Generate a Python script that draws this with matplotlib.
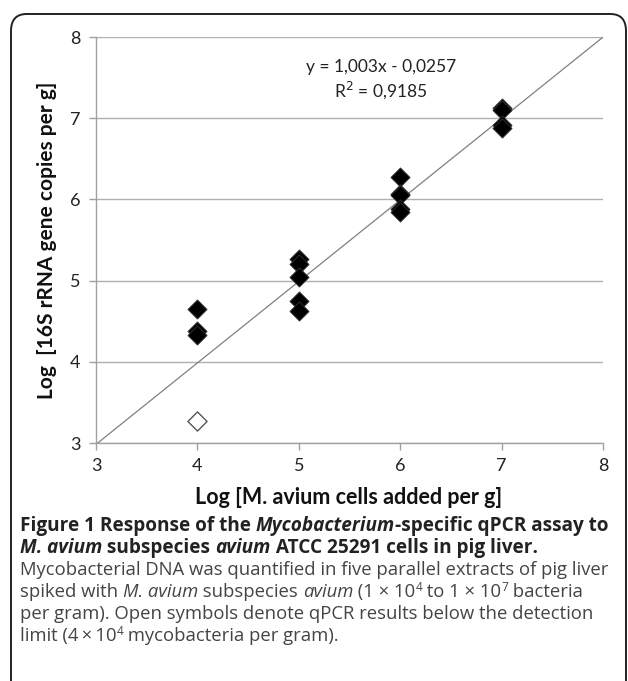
import numpy as np
import matplotlib.pyplot as plt
from matplotlib.patches import FancyBboxPatch

plt.rcParams['font.family'] = 'Lato'

# cells added (log) and measured copies (log)
x_filled = [4, 4, 4, 5, 5, 5, 5, 5, 6, 6, 6, 6, 6, 7, 7, 7, 7]
y_filled = [4.65, 4.38, 4.33, 5.27, 5.20, 5.04, 4.75, 4.62,
            6.27, 6.07, 6.05, 5.88, 5.85, 7.13, 7.10, 6.92, 6.88]
x_open = [4]
y_open = [3.27]
slope = 1.003
intercept = -0.0257
ticks = [3, 4, 5, 6, 7, 8]

W, H = 628, 681
fig = plt.figure(figsize=(W / 100, H / 100), dpi=100)

# outer frame, open at the bottom
frame = FancyBboxPatch((11 / W, -0.2), (626 - 11) / W, 1.2 - 14 / H,
                       boxstyle="round,pad=0,rounding_size=0.025",
                       transform=fig.transFigure, fill=False,
                       edgecolor='#222222', linewidth=1.4, clip_on=False)
fig.patches.append(frame)

ax = fig.add_axes([96 / W, 1 - 443 / H, (603 - 96) / W, (443 - 37) / H])
xx = np.array([3, 8])
ax.plot(xx, slope * xx + intercept, color='#808080', linewidth=0.9, zorder=2)
ax.scatter(x_filled, y_filled, marker='D', s=95, color='black',
           edgecolors='#333333', linewidths=0.6, zorder=3)
ax.scatter(x_open, y_open, marker='D', s=95, facecolors='white',
           edgecolors='#555555', linewidths=1.0, zorder=3)

ax.set_xlim(3, 8)
ax.set_ylim(3, 8)
ax.set_xticks(ticks)
ax.set_yticks(ticks)
ax.yaxis.grid(True, color='#b0b0b0', linewidth=1.0)
ax.set_axisbelow(True)
for s in ['top', 'right']:
    ax.spines[s].set_visible(False)
for s in ['left', 'bottom']:
    ax.spines[s].set_color('#a0a0a0')
    ax.spines[s].set_linewidth(1.0)
ax.tick_params(direction='out', length=5, color='#a0a0a0', width=1.0,
               labelsize=13, labelcolor='#222222', pad=6)

fig.text(349 / W, 1 - 497 / H, 'Log [M. avium cells added per g]', fontsize=15.5,
         fontweight='bold', color='#111111', ha='center', va='center')
fig.text(47 / W, 1 - 240 / H, 'Log  [16S rRNA gene copies per g]', fontsize=15,
         fontweight='bold', color='#111111', ha='center', va='center', rotation=90)

fig.text(381 / W, 1 - 67 / H, 'y = 1,003x - 0,0257',
         ha='center', va='center', fontsize=12.5, color='#222222')
fig.text(381 / W, 1 - 90 / H, 'R$^2$ = 0,9185',
         ha='center', va='center', fontsize=12.5, color='#222222')

# caption with mixed styles
cap_font = 'Open Sans'
renderer = fig.canvas.get_renderer()


def line(y_px, parts, size):
    x = 20 / W
    for txt, weight, style, sup in parts:
        fs = size * 0.65 if sup else size
        yy = 1 - (y_px - 6) / H if sup else 1 - y_px / H
        t = fig.text(x, yy, txt, fontsize=fs, fontweight=weight,
                     fontstyle=style, family=cap_font,
                     color='#222222' if weight == 'bold' else '#444444',
                     va='baseline', ha='left')
        bb = t.get_window_extent(renderer)
        x += bb.width / W


B = 'bold'
N = 'normal'
I = 'italic'
line(531, [('Figure 1 Response of the ', B, N, 0), ('Mycobacterium', B, I, 0),
           ('-specific qPCR assay to', B, N, 0)], 13.7)
line(553, [('M. avium', B, I, 0), (' subspecies ', B, N, 0), ('avium', B, I, 0),
           (' ATCC 25291 cells in pig liver.', B, N, 0)], 13.7)
line(575, [('Mycobacterial DNA was quantified in five parallel extracts of pig liver', N, N, 0)], 13.3)
line(597, [('spiked with ', N, N, 0), ('M. avium', N, I, 0), (' subspecies ', N, N, 0),
           ('avium', N, I, 0), (' (1 \u00d7 10', N, N, 0), ('4', N, N, 1),
           (' to 1 \u00d7 10', N, N, 0), ('7', N, N, 1), (' bacteria', N, N, 0)], 13.3)
line(619, [('per gram). Open symbols denote qPCR results below the detection', N, N, 0)], 13.3)
line(641, [('limit (4\u2009\u00d7\u200910', N, N, 0), ('4', N, N, 1),
           (' mycobacteria per gram).', N, N, 0)], 13.3)

fig.savefig('out.png', dpi=100)
